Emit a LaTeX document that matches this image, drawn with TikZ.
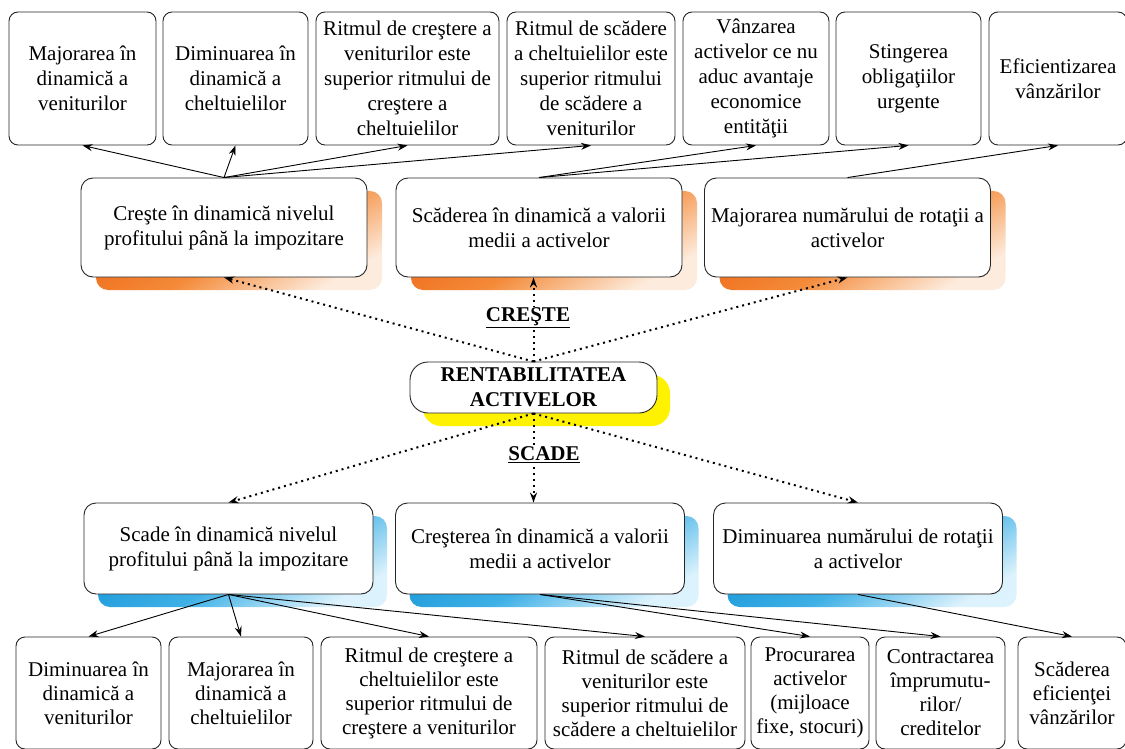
\documentclass[tikz,border=0pt]{standalone}
\usepackage{fontspec}
\setmainfont{Liberation Serif}
\usetikzlibrary{arrows.meta,shadows}
\definecolor{orD}{RGB}{236,96,14}
\definecolor{orM}{RGB}{244,138,56}
\definecolor{orL}{RGB}{253,236,222}
\definecolor{blD}{RGB}{16,146,214}
\definecolor{blM}{RGB}{62,176,230}
\definecolor{blL}{RGB}{220,242,252}
\pgfdeclarehorizontalshading{orshade}{100bp}{color(0bp)=(orD); color(25bp)=(orD); color(52bp)=(orM); color(75bp)=(orL); color(100bp)=(orL)}
\pgfdeclarehorizontalshading{blshade}{100bp}{color(0bp)=(blD); color(25bp)=(blD); color(52bp)=(blM); color(75bp)=(blL); color(100bp)=(blL)}
\begin{document}
\begin{tikzpicture}[x=1pt,y=-1pt,>={Stealth[length=10pt,width=7pt]},
    box/.style={draw=black!85,line width=0.9pt,fill=white,align=center,inner sep=2pt,font=\fontsize{21}{25}\selectfont},
    tbox/.style={box,rounded corners=9pt,minimum height=133pt},
    cbox/.style={box,rounded corners=9pt,minimum height=112pt,font=\fontsize{21}{24}\selectfont},
    obox/.style={box,rounded corners=12pt,minimum width=286pt,minimum height=99pt,
        general shadow={shadow xshift=15pt,shadow yshift=-13pt,shading=orshade,shading angle=-60}},
    lbox/.style={box,rounded corners=12pt,minimum width=289pt,minimum height=91pt,
        general shadow={shadow xshift=14pt,shadow yshift=-13pt,shading=blshade,shading angle=-60}},
    rbox/.style={box,rounded corners=18pt,minimum width=247pt,minimum height=51pt,font=\fontsize{21}{25}\selectfont\bfseries,
        general shadow={shadow xshift=13pt,shadow yshift=-13pt,fill=yellow}},
    lbl/.style={fill=white,inner sep=1pt,font=\fontsize{21}{25}\selectfont\bfseries},
    link/.style={->,line width=0.9pt},
    dotline/.style={->,line width=2pt,dash pattern=on 2pt off 4pt}]
    \useasboundingbox (0,0) rectangle (1125,749);
    \node[tbox,minimum width=147pt] (b1) at (82.5,78.5) {Majorarea în\\dinamică a\\veniturilor};
    \node[tbox,minimum width=145pt] (b2) at (235.5,78.5) {Diminuarea în\\dinamică a\\cheltuielilor};
    \node[tbox,minimum width=183pt] (b3) at (407.5,78.5) {Ritmul de creştere a\\veniturilor este\\superior ritmului de\\creştere a\\cheltuielilor};
    \node[tbox,minimum width=168pt] (b4) at (591,78.5) {Ritmul de scădere\\a cheltuielilor este\\superior ritmului\\de scădere a\\veniturilor};
    \node[tbox,minimum width=146pt] (b5) at (756,78.5) {Vânzarea\\activelor ce nu\\aduc avantaje\\economice\\entităţii};
    \node[tbox,minimum width=145pt] (b6) at (908.5,78.5) {Stingerea\\obligaţiilor\\urgente};
    \node[tbox,minimum width=138pt] (b7) at (1058,78.5) {Eficientizarea\\vânzărilor};
    \node[obox] (o1) at (224,227.5) {Creşte în dinamică nivelul\\profitului până la impozitare};
    \node[obox] (o2) at (539,227.5) {Scăderea în dinamică a valorii\\medii a activelor};
    \node[obox] (o3) at (847.5,227.5) {Majorarea numărului de rotaţii a\\activelor};
    \node[rbox] (r) at (533.5,387.5) {RENTABILITATEA\\ACTIVELOR};
    \node[lbox] (l1) at (228.5,548.5) {Scade în dinamică nivelul\\profitului până la impozitare};
    \node[lbox] (l2) at (540,548.5) {Creşterea în dinamică a valorii\\medii a activelor};
    \node[lbox] (l3) at (858,548.5) {Diminuarea numărului de rotaţii\\a activelor};
    \node[cbox,minimum width=145pt] (c1) at (88.5,693) {Diminuarea în\\dinamică a\\veniturilor};
    \node[cbox,minimum width=144pt] (c2) at (241,693) {Majorarea în\\dinamică a\\cheltuielilor};
    \node[cbox,minimum width=216pt] (c3) at (429,693) {Ritmul de creştere a\\cheltuielilor este\\superior ritmului de\\creştere a veniturilor};
    \node[cbox,minimum width=200pt] (c4) at (645,693) {Ritmul de scădere a\\veniturilor este\\superior ritmului de\\scădere a cheltuielilor};
    \node[cbox,minimum width=118pt] (c5) at (810,693) {Procurarea\\activelor\\(mijloace\\fixe, stocuri)};
    \node[cbox,minimum width=129pt] (c6) at (940.5,693) {Contractarea\\împrumutu-\\rilor/\\creditelor};
    \node[cbox,minimum width=108pt] (c7) at (1072,693) {Scăderea\\eficienţei\\vânzărilor};
    \foreach \t in {b1,b2,b3,b4}
    \draw[link] (o1.north) -- (\t.south);
    \foreach \t in {b5,b6}
    \draw[link] (o2.north) -- (\t.south);
    \draw[link] (o3.north) -- (b7.south);
    \foreach \t in {c1,c2,c3,c4}
    \draw[link] (l1.south) -- (\t.north);
    \foreach \t in {c5,c6}
    \draw[link] (l2.south) -- (\t.north);
    \draw[link] (l3.south) -- (c7.north);
    \draw[dotline] (r.north) -- (o1.south);
    \draw[dotline] (r.north) -- (r.north |- o2.south);
    \draw[dotline] (r.north) -- (o3.south);
    \draw[dotline] (r.south) -- (l1.north);
    \draw[dotline] (r.south) -- (r.south |- l2.north);
    \draw[dotline] (r.south) -- (l3.north);
    \node[lbl] (cr) at (528,318) {\underline{CREŞTE}};
    \node[lbl] (sc) at (544,455) {\underline{SCADE}};
\end{tikzpicture}
\end{document}
